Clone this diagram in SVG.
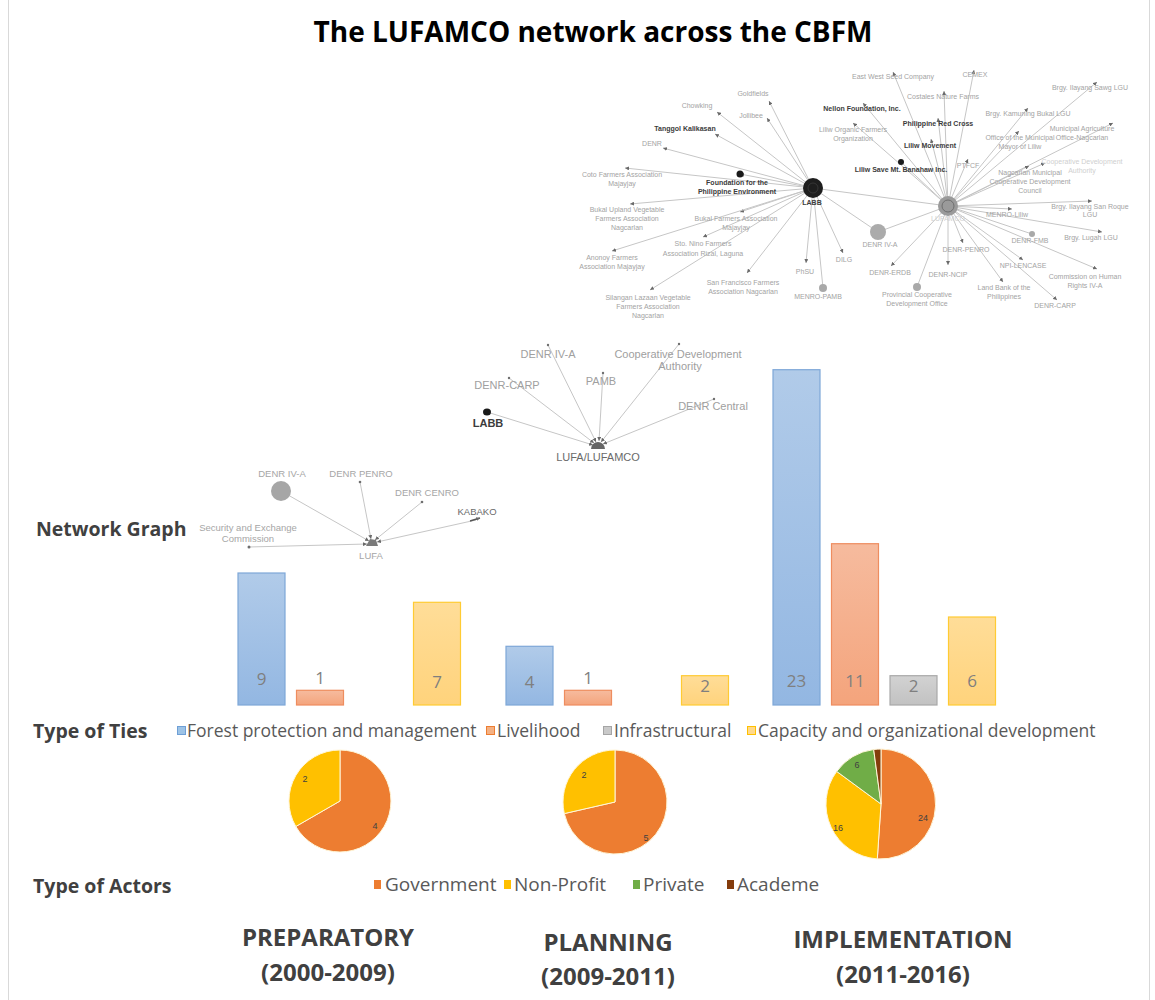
<svg xmlns="http://www.w3.org/2000/svg" width="1155" height="1000" viewBox="0 0 1155 1000">
<style>
  .title{font-family:"Open Sans","Liberation Sans",sans-serif;font-weight:700;font-size:28px;fill:#000}
  .head{font-family:"Open Sans","Liberation Sans",sans-serif;font-weight:700;font-size:19.5px;fill:#404040}
  .leg{font-family:"Open Sans","Liberation Sans",sans-serif;font-size:17.5px;fill:#595959}
  .leg2{font-family:"Open Sans","Liberation Sans",sans-serif;font-size:19px;fill:#595959}
  .phase{font-family:"Open Sans","Liberation Sans",sans-serif;font-weight:700;font-size:24px;fill:#404040;text-anchor:middle}
  .val{font-family:"Open Sans","Liberation Sans",sans-serif;font-size:17px;fill:#7f7f7f;text-anchor:middle}
  .pv{font-family:"Liberation Sans",sans-serif;font-size:9px;fill:#404040;text-anchor:middle}
  .n1{font-family:"Liberation Sans",sans-serif;font-size:9.5px;fill:#a6a6a6;text-anchor:middle}
  .n2{font-family:"Liberation Sans",sans-serif;font-size:11px;fill:#a0a0a0;text-anchor:middle}
  .n3{font-family:"Liberation Sans",sans-serif;font-size:7px;fill:#a3a3a3;text-anchor:middle}
  .dk{fill:#3c3c3c;font-weight:700}
  .md{fill:#6a6a6a}
  .lt{fill:#cfcfcf}
  .edge{stroke:#c6c6c6;stroke-width:1;fill:none}
  .dot{fill:#6f6f6f}
  .bdot{fill:#1a1a1a}
  .gdot{fill:#a9a9a9}
</style>
<defs>
  <marker id="arr" viewBox="0 0 6 6" refX="6" refY="3" markerWidth="4" markerHeight="4" markerUnits="userSpaceOnUse" orient="auto">
    <path d="M0,0 L6,3 L0,6 Z" fill="#6a6a6a"/>
  </marker>
  <linearGradient id="gBlue" x1="0" y1="0" x2="0" y2="1"><stop offset="0" stop-color="#b1cbe9"/><stop offset="1" stop-color="#93b7e2"/></linearGradient>
  <linearGradient id="gOrange" x1="0" y1="0" x2="0" y2="1"><stop offset="0" stop-color="#f6bb9e"/><stop offset="1" stop-color="#f4a47c"/></linearGradient>
  <linearGradient id="gGray" x1="0" y1="0" x2="0" y2="1"><stop offset="0" stop-color="#d2d2d2"/><stop offset="1" stop-color="#c2c2c2"/></linearGradient>
  <linearGradient id="gYellow" x1="0" y1="0" x2="0" y2="1"><stop offset="0" stop-color="#ffdd98"/><stop offset="1" stop-color="#ffd37c"/></linearGradient>
</defs>

<rect x="0" y="0" width="1155" height="1000" fill="#ffffff"/>
<rect x="8.5" y="-1" width="1141" height="1002" fill="none" stroke="#d9d9d9" stroke-width="1"/>

<text class="title" x="593" y="42" text-anchor="middle">The LUFAMCO network across the CBFM</text>

<!-- connectors -->
<g id="connectors">
  <!-- preparatory network (LUFA hub) -->
  <line class="edge" x1="281" y1="491" x2="369" y2="541" marker-end="url(#arr)"/>
  <line class="edge" x1="360" y1="482" x2="371" y2="539" marker-end="url(#arr)"/>
  <line class="edge" x1="422" y1="502" x2="375" y2="540" marker-end="url(#arr)"/>
  <line class="edge" x1="476" y1="520" x2="377" y2="542" marker-end="url(#arr)"/>
  <line class="edge" x1="249" y1="547" x2="367" y2="544" marker-end="url(#arr)"/>
  <line x1="470" y1="521" x2="480" y2="518" stroke="#555" stroke-width="1.5" marker-end="url(#arr)"/>

  <!-- planning network (LUFA/LUFAMCO hub) -->
  <line class="edge" x1="487" y1="412" x2="593" y2="445" marker-end="url(#arr)"/>
  <line class="edge" x1="509" y1="378" x2="594" y2="443" marker-end="url(#arr)"/>
  <line class="edge" x1="548" y1="345" x2="596" y2="442" marker-end="url(#arr)"/>
  <line class="edge" x1="603" y1="373" x2="599" y2="441" marker-end="url(#arr)"/>
  <line class="edge" x1="679" y1="344" x2="601" y2="442" marker-end="url(#arr)"/>
  <line class="edge" x1="714" y1="399" x2="603" y2="444" marker-end="url(#arr)"/>

  <!-- implementation network: LABB hub -->
  <line class="edge" x1="813" y1="188" x2="769" y2="101" marker-end="url(#arr)"/>
  <line class="edge" x1="813" y1="188" x2="717" y2="112" marker-end="url(#arr)"/>
  <line class="edge" x1="813" y1="188" x2="767" y2="118" marker-end="url(#arr)"/>
  <line class="edge" x1="813" y1="188" x2="715" y2="134" marker-end="url(#arr)"/>
  <line class="edge" x1="813" y1="188" x2="663" y2="148" marker-end="url(#arr)"/>
  <line class="edge" x1="813" y1="188" x2="625" y2="168" marker-end="url(#arr)"/>
  <line class="edge" x1="813" y1="188" x2="740" y2="174" marker-end="url(#arr)"/>
  <line class="edge" x1="813" y1="188" x2="630" y2="204" marker-end="url(#arr)"/>
  <line class="edge" x1="813" y1="188" x2="740" y2="212" marker-end="url(#arr)"/>
  <line class="edge" x1="813" y1="188" x2="703" y2="237" marker-end="url(#arr)"/>
  <line class="edge" x1="813" y1="188" x2="612" y2="251" marker-end="url(#arr)"/>
  <line class="edge" x1="813" y1="188" x2="747" y2="273" marker-end="url(#arr)"/>
  <line class="edge" x1="813" y1="188" x2="650" y2="290" marker-end="url(#arr)"/>
  <line class="edge" x1="813" y1="188" x2="806" y2="263" marker-end="url(#arr)"/>
  <line class="edge" x1="813" y1="188" x2="843" y2="253" marker-end="url(#arr)"/>
  <line class="edge" x1="813" y1="188" x2="823" y2="288"/>
  <line class="edge" x1="813" y1="188" x2="878" y2="232"/>
  <line class="edge" x1="813" y1="188" x2="948" y2="206"/>

  <!-- implementation network: LUFAMCO hub -->
  <line class="edge" x1="948" y1="206" x2="893" y2="72" marker-end="url(#arr)"/>
  <line class="edge" x1="948" y1="206" x2="974" y2="70" marker-end="url(#arr)"/>
  <line class="edge" x1="948" y1="206" x2="944" y2="91" marker-end="url(#arr)"/>
  <line class="edge" x1="948" y1="206" x2="863" y2="103" marker-end="url(#arr)"/>
  <line class="edge" x1="948" y1="206" x2="938" y2="118" marker-end="url(#arr)"/>
  <line class="edge" x1="948" y1="206" x2="1028" y2="108" marker-end="url(#arr)"/>
  <line class="edge" x1="948" y1="206" x2="1097" y2="82" marker-end="url(#arr)"/>
  <line class="edge" x1="948" y1="206" x2="853" y2="123" marker-end="url(#arr)"/>
  <line class="edge" x1="948" y1="206" x2="931" y2="139" marker-end="url(#arr)"/>
  <line class="edge" x1="948" y1="206" x2="1019" y2="131" marker-end="url(#arr)"/>
  <line class="edge" x1="948" y1="206" x2="1113" y2="123" marker-end="url(#arr)"/>
  <line class="edge" x1="948" y1="206" x2="901" y2="162"/>
  <line class="edge" x1="948" y1="206" x2="968" y2="159" marker-end="url(#arr)"/>
  <line class="edge" x1="948" y1="206" x2="1029" y2="166" marker-end="url(#arr)"/>
  <line class="edge" x1="948" y1="206" x2="1045" y2="163" marker-end="url(#arr)"/>
  <line class="edge" x1="948" y1="206" x2="1092" y2="201" marker-end="url(#arr)"/>
  <line class="edge" x1="948" y1="206" x2="1012" y2="209" marker-end="url(#arr)"/>
  <line class="edge" x1="948" y1="206" x2="1102" y2="232" marker-end="url(#arr)"/>
  <line class="edge" x1="948" y1="206" x2="1032" y2="234"/>
  <line class="edge" x1="948" y1="206" x2="878" y2="232"/>
  <line class="edge" x1="948" y1="206" x2="963" y2="243" marker-end="url(#arr)"/>
  <line class="edge" x1="948" y1="206" x2="891" y2="266" marker-end="url(#arr)"/>
  <line class="edge" x1="948" y1="206" x2="948" y2="265" marker-end="url(#arr)"/>
  <line class="edge" x1="948" y1="206" x2="1023" y2="260" marker-end="url(#arr)"/>
  <line class="edge" x1="948" y1="206" x2="917" y2="287"/>
  <line class="edge" x1="948" y1="206" x2="1003" y2="282" marker-end="url(#arr)"/>
  <line class="edge" x1="948" y1="206" x2="1097" y2="269" marker-end="url(#arr)"/>
  <line class="edge" x1="948" y1="206" x2="1057" y2="300" marker-end="url(#arr)"/>
</g>

<!-- preparatory network nodes -->
<g id="n1-lufa"><path d="M366,546 L370,539 L376,540 L378,546 Z" fill="#7a7a7a"/><text class="n1" x="371" y="559">LUFA</text></g>
<g id="n1-denr4a"><circle cx="281" cy="491" r="10" fill="#a6a6a6"/><text class="n1" x="282" y="477">DENR IV-A</text></g>
<g id="n1-penro"><circle class="dot" cx="360" cy="482" r="1.3"/><text class="n1" x="361" y="477">DENR PENRO</text></g>
<g id="n1-cenro"><circle class="dot" cx="422" cy="502" r="1.3"/><text class="n1" x="427" y="496">DENR CENRO</text></g>
<g id="n1-kabako"><text class="n1 md" x="477" y="515">KABAKO</text></g>
<g id="n1-sec"><circle class="dot" cx="249" cy="547" r="1.5"/><text class="n1" x="248" y="531">Security and Exchange</text><text class="n1" x="248" y="542">Commission</text></g>

<!-- planning network nodes -->
<g id="n2-hub"><path d="M591,449 A7,7 0 0 1 605,449 Z" fill="#666"/><text class="n2 md" x="598" y="461">LUFA/LUFAMCO</text></g>
<g id="n2-labb"><ellipse cx="487" cy="412" rx="4" ry="3.5" class="bdot"/><text class="n2 dk" x="488" y="427">LABB</text></g>
<g id="n2-carp"><circle class="dot" cx="509" cy="378" r="1.2"/><text class="n2" x="507" y="389">DENR-CARP</text></g>
<g id="n2-denr4a"><circle class="dot" cx="548" cy="345" r="1.2"/><text class="n2" x="548" y="358">DENR IV-A</text></g>
<g id="n2-pamb"><circle class="dot" cx="603" cy="373" r="1.2"/><text class="n2" x="601" y="385">PAMB</text></g>
<g id="n2-cda"><circle class="dot" cx="679" cy="344" r="1.2"/><text class="n2" x="678" y="358">Cooperative Development</text><text class="n2" x="680" y="370">Authority</text></g>
<g id="n2-central"><circle class="dot" cx="714" cy="399" r="1.2"/><text class="n2" x="713" y="410">DENR Central</text></g>

<!-- implementation network: LABB side -->
<g id="n3-labb"><circle cx="813" cy="188" r="10" fill="#1e1e1e"/><circle cx="813" cy="188" r="5" fill="none" stroke="#444" stroke-width="0.6"/><text class="n3 dk" x="812" y="205">LABB</text></g>
<g id="n3-goldfields"><text class="n3" x="753" y="96">Goldfields</text></g>
<g id="n3-chowking"><text class="n3" x="697" y="108">Chowking</text></g>
<g id="n3-jollibee"><text class="n3" x="751" y="118">Jollibee</text></g>
<g id="n3-tanggol"><text class="n3 dk" x="685" y="131">Tanggol Kalikasan</text></g>
<g id="n3-denr"><text class="n3" x="652" y="146">DENR</text></g>
<g id="n3-coto"><text class="n3" x="622" y="177">Coto Farmers Association</text><text class="n3" x="622" y="186">Majayjay</text></g>
<g id="n3-fpe"><circle class="bdot" cx="740" cy="174" r="3.5"/><text class="n3 dk" x="737" y="185">Foundation for the</text><text class="n3 dk" x="737" y="194">Philippine Environment</text></g>
<g id="n3-bukalupland"><text class="n3" x="627" y="212">Bukal Upland Vegetable</text><text class="n3" x="627" y="221">Farmers Association</text><text class="n3" x="627" y="230">Nagcarlan</text></g>
<g id="n3-bukal"><text class="n3" x="736" y="221">Bukal Farmers Association</text><text class="n3" x="736" y="230">Majayjay</text></g>
<g id="n3-stonino"><text class="n3" x="703" y="246">Sto. Nino Farmers</text><text class="n3" x="703" y="256">Association Rizal, Laguna</text></g>
<g id="n3-anonoy"><text class="n3" x="612" y="260">Anonoy Farmers</text><text class="n3" x="612" y="269">Association Majayjay</text></g>
<g id="n3-sanfrancisco"><text class="n3" x="743" y="285">San Francisco Farmers</text><text class="n3" x="743" y="294">Association Nagcarlan</text></g>
<g id="n3-silangan"><text class="n3" x="648" y="300">Silangan Lazaan Vegetable</text><text class="n3" x="648" y="309">Farmers Association</text><text class="n3" x="648" y="318">Nagcarlan</text></g>
<g id="n3-phsu"><text class="n3" x="805" y="274">PhSU</text></g>
<g id="n3-dilg"><text class="n3" x="844" y="262">DILG</text></g>
<g id="n3-menropamb"><circle class="gdot" cx="823" cy="288" r="4"/><text class="n3" x="818" y="299">MENRO-PAMB</text></g>
<g id="n3-denr4a"><circle cx="878" cy="232" r="8" fill="#ababab"/><text class="n3" x="880" y="247">DENR IV-A</text></g>

<!-- implementation network: LUFAMCO side -->
<g id="n3-lufamco"><circle cx="948" cy="206" r="10" fill="#9a9a9a"/><circle cx="948" cy="206" r="6" fill="none" stroke="#6e6e6e" stroke-width="1"/><text class="n3 lt" x="948" y="221">LUFAMCO</text></g>
<g id="n3-eastwest"><text class="n3" x="893" y="79">East West Seed Company</text></g>
<g id="n3-cemex"><text class="n3" x="975" y="77">CEMEX</text></g>
<g id="n3-costales"><text class="n3" x="943" y="99">Costales Nature Farms</text></g>
<g id="n3-nellon"><text class="n3 dk" x="862" y="111">Nellon Foundation, Inc.</text></g>
<g id="n3-redcross"><text class="n3 dk" x="938" y="126">Philippine Red Cross</text></g>
<g id="n3-kamuning"><text class="n3" x="1028" y="116">Brgy. Kamuning Bukal LGU</text></g>
<g id="n3-ilayangsawg"><text class="n3" x="1090" y="90">Brgy. Ilayang Sawg LGU</text></g>
<g id="n3-liliworganic"><text class="n3" x="853" y="132">Liliw Organic Farmers</text><text class="n3" x="853" y="141">Organization</text></g>
<g id="n3-liliwmovement"><text class="n3 dk" x="930" y="148">Liliw Movement</text></g>
<g id="n3-mayor"><text class="n3" x="1020" y="140">Office of the Municipal</text><text class="n3" x="1020" y="149">Mayor of Liliw</text></g>
<g id="n3-mao"><text class="n3" x="1082" y="131">Municipal Agriculture</text><text class="n3" x="1082" y="140">Office-Nagcarlan</text></g>
<g id="n3-savebanahaw"><circle class="bdot" cx="901" cy="162" r="3"/><text class="n3 dk" x="901" y="172">Liliw Save Mt. Banahaw Inc.</text></g>
<g id="n3-ptfcf"><text class="n3" x="968" y="168">PTFCF</text></g>
<g id="n3-nmcdc"><text class="n3" x="1030" y="175">Nagcarlan Municipal</text><text class="n3" x="1030" y="184">Cooperative Development</text><text class="n3" x="1030" y="193">Council</text></g>
<g id="n3-cda"><text class="n3 lt" x="1082" y="164">Cooperative Development</text><text class="n3 lt" x="1082" y="173">Authority</text></g>
<g id="n3-sanroque"><text class="n3" x="1090" y="209">Brgy. Ilayang San Roque</text><text class="n3" x="1090" y="217">LGU</text></g>
<g id="n3-menroliliw"><text class="n3" x="1007" y="217">MENRO-Liliw</text></g>
<g id="n3-lugah"><text class="n3" x="1091" y="240">Brgy. Lugah LGU</text></g>
<g id="n3-fmb"><circle class="gdot" cx="1032" cy="234" r="3"/><text class="n3" x="1030" y="243">DENR-FMB</text></g>
<g id="n3-penro"><text class="n3" x="966" y="252">DENR-PENRO</text></g>
<g id="n3-erdb"><text class="n3" x="890" y="275">DENR-ERDB</text></g>
<g id="n3-ncip"><text class="n3" x="948" y="277">DENR-NCIP</text></g>
<g id="n3-npi"><text class="n3" x="1023" y="268">NPI-LENCASE</text></g>
<g id="n3-pcdo"><circle class="gdot" cx="917" cy="287" r="4"/><text class="n3" x="917" y="297">Provincial Cooperative</text><text class="n3" x="917" y="306">Development Office</text></g>
<g id="n3-landbank"><text class="n3" x="1004" y="290">Land Bank of the</text><text class="n3" x="1004" y="299">Philippines</text></g>
<g id="n3-chr"><text class="n3" x="1085" y="279">Commission on Human</text><text class="n3" x="1085" y="288">Rights IV-A</text></g>
<g id="n3-carp"><text class="n3" x="1055" y="308">DENR-CARP</text></g>

<text class="head" x="36" y="536">Network Graph</text>

<!-- bar chart: type of ties per phase -->
<g id="bars" stroke-width="1.2">
  <rect x="238" y="573" width="47" height="132" fill="url(#gBlue)" stroke="#7ea7d8"/>
  <rect x="296.5" y="690.3" width="47" height="14.7" fill="url(#gOrange)" stroke="#ee8d5f"/>
  <rect x="413.5" y="602.3" width="47" height="102.7" fill="url(#gYellow)" stroke="#ffcb33"/>

  <rect x="506" y="646.3" width="47" height="58.7" fill="url(#gBlue)" stroke="#7ea7d8"/>
  <rect x="564.5" y="690.3" width="47" height="14.7" fill="url(#gOrange)" stroke="#ee8d5f"/>
  <rect x="681.5" y="675.7" width="47" height="29.3" fill="url(#gYellow)" stroke="#ffcb33"/>

  <rect x="773" y="369.7" width="47" height="335.3" fill="url(#gBlue)" stroke="#7ea7d8"/>
  <rect x="831.5" y="543.7" width="47" height="161.3" fill="url(#gOrange)" stroke="#ee8d5f"/>
  <rect x="890" y="675.7" width="47" height="29.3" fill="url(#gGray)" stroke="#a9a9a9"/>
  <rect x="948.5" y="617" width="47" height="88" fill="url(#gYellow)" stroke="#ffcb33"/>
</g>
<g id="bar-values">
  <text class="val" x="261.5" y="685">9</text>
  <text class="val" x="320" y="684">1</text>
  <text class="val" x="437" y="688">7</text>
  <text class="val" x="529.5" y="688">4</text>
  <text class="val" x="588" y="684">1</text>
  <text class="val" x="705" y="692">2</text>
  <text class="val" x="796.5" y="687">23</text>
  <text class="val" x="855" y="687">11</text>
  <text class="val" x="913.5" y="692">2</text>
  <text class="val" x="972" y="687">6</text>
</g>

<!-- legend: type of ties -->
<g id="legend-ties">
  <text class="head" x="33" y="738">Type of Ties</text>
  <rect x="177.5" y="726.5" width="8" height="8" fill="#9dc3e6" stroke="#6e9fd6"/>
  <text class="leg" x="187" y="737">Forest protection and management</text>
  <rect x="486.5" y="726.5" width="8" height="8" fill="#f4b183" stroke="#ed7d31"/>
  <text class="leg" x="497" y="737">Livelihood</text>
  <rect x="603.5" y="726.5" width="8" height="8" fill="#c9c9c9" stroke="#a5a5a5"/>
  <text class="leg" x="614" y="737">Infrastructural</text>
  <rect x="747.5" y="726.5" width="8" height="8" fill="#ffd98a" stroke="#ffc000"/>
  <text class="leg" x="758" y="737">Capacity and organizational development</text>
</g>

<!-- pies: type of actors per phase -->
<g id="pie-preparatory" stroke="#fff6d8" stroke-width="1">
  <path d="M340,801 L340,750 A51,51 0 1 1 295.8,826.5 Z" fill="#ed7d31"/>
  <path d="M340,801 L295.8,826.5 A51,51 0 0 1 340,750 Z" fill="#ffc000"/>
</g>
<g id="pie-planning" stroke="#fff6d8" stroke-width="1">
  <path d="M615,802 L615,750 A52,52 0 1 1 564.3,813.6 Z" fill="#ed7d31"/>
  <path d="M615,802 L564.3,813.6 A52,52 0 0 1 615,750 Z" fill="#ffc000"/>
</g>
<g id="pie-implementation" stroke="#fff6d8" stroke-width="1">
  <path d="M881,804 L881,749 A55,55 0 1 1 877.3,858.9 Z" fill="#ed7d31"/>
  <path d="M881,804 L877.3,858.9 A55,55 0 0 1 836.7,771.4 Z" fill="#ffc000"/>
  <path d="M881,804 L836.7,771.4 A55,55 0 0 1 873.7,749.5 Z" fill="#70ad47"/>
  <path d="M881,804 L873.7,749.5 A55,55 0 0 1 881,749 Z" fill="#843c0c"/>
</g>
<g id="pie-values">
  <text class="pv" x="305" y="782">2</text>
  <text class="pv" x="375" y="829">4</text>
  <text class="pv" x="584" y="778">2</text>
  <text class="pv" x="646" y="841">5</text>
  <text class="pv" x="857" y="768">6</text>
  <text class="pv" x="838" y="831">16</text>
  <text class="pv" x="923" y="821">24</text>
</g>

<!-- legend: type of actors -->
<g id="legend-actors">
  <text class="head" x="33" y="893">Type of Actors</text>
  <rect x="374" y="880" width="7" height="9" fill="#ed7d31"/>
  <text class="leg2" x="385" y="891">Government</text>
  <rect x="504" y="880" width="7" height="9" fill="#ffc000"/>
  <text class="leg2" x="514" y="891">Non-Profit</text>
  <rect x="633" y="880" width="7" height="9" fill="#70ad47"/>
  <text class="leg2" x="643" y="891">Private</text>
  <rect x="727" y="880" width="7" height="9" fill="#843c0c"/>
  <text class="leg2" x="737" y="891">Academe</text>
</g>

<!-- phase labels -->
<g id="phases">
  <text class="phase" x="328" y="946">PREPARATORY</text>
  <text class="phase" x="328" y="981">(2000-2009)</text>
  <text class="phase" x="608" y="951">PLANNING</text>
  <text class="phase" x="608" y="985">(2009-2011)</text>
  <text class="phase" x="903" y="948">IMPLEMENTATION</text>
  <text class="phase" x="903" y="983">(2011-2016)</text>
</g>
</svg>
